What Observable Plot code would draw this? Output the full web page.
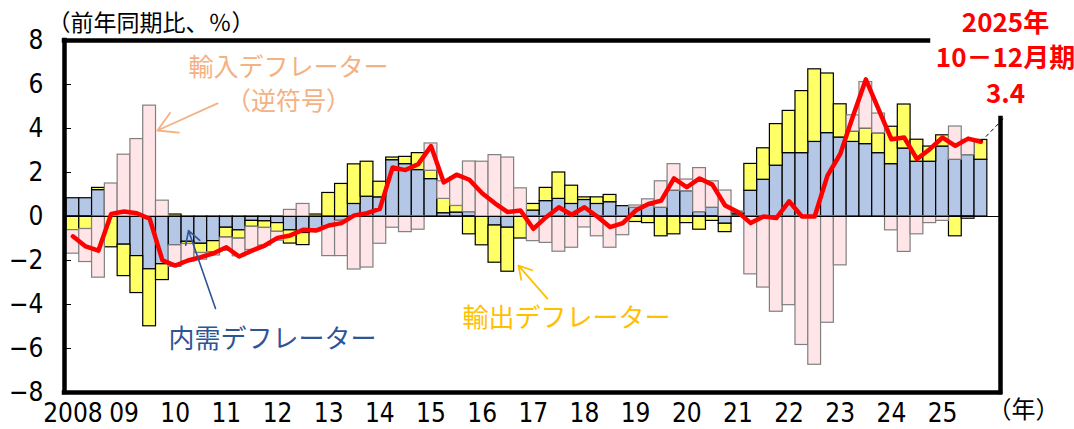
<!DOCTYPE html>
<html><head><meta charset="utf-8">
<script src="https://cdn.jsdelivr.net/npm/d3@7"></script>
<script src="https://cdn.jsdelivr.net/npm/@observablehq/plot@0.6"></script>
<style>
html,body{margin:0;padding:0;background:#fff;}
</style></head><body><div id="chart"></div>
<script>
// Quarterly, 2008 Q1 .. 2025 Q4 (72 quarters)
const years = ["2008","2009","2010","2011","2012","2013","2014","2015","2016","2017","2018","2019","2020","2021","2022","2023","2024","2025"];
const yearLabels = ["2008","09","10","11","12","13","14","15","16","17","18","19","20","21","22","23","24","25"];
const quarterNames = ["Q1","Q2","Q3","Q4"];

// 内需デフレーター contribution (blue)
const domestic = [0.83,0.83,1.2,0.0,-1.28,-1.8,-2.4,-2.17,-1.31,-1.15,
  -1.24,-1.12,-0.51,-0.63,-0.2,-0.22,-0.3,-0.63,-0.75,-0.58,
  -0.45,-0.2,0.57,0.9,0.87,2.56,2.38,2.11,1.7,0.15,
  0.18,0.2,0.0,-0.41,-0.51,0.0,0.27,0.7,0.8,0.57,
  0.75,0.57,0.65,0.47,0.4,0.5,0.4,1.18,1.15,0.2,
  0.4,-0.33,0.1,1.17,1.67,2.31,2.88,2.88,3.39,3.79,
  3.59,3.39,3.29,2.88,2.38,3.09,2.49,2.49,3.18,2.58,
  2.79,2.58];
// 輸出デフレーター contribution (yellow)
const exportDefl = [-0.62,-0.57,0.1,-1.4,-1.43,-1.68,-2.59,-0.72,0.09,-0.1,
  -0.42,-0.5,-0.45,-0.38,-0.27,-0.3,-0.4,-0.6,-0.55,0.09,
  1.07,1.48,1.8,1.59,0.71,0.12,0.33,0.77,0.38,0.65,
  0.3,-0.81,-1.31,-1.69,-2.0,-1.0,0.3,0.6,1.2,0.83,
  0.12,0.3,0.33,0.0,-0.25,-0.3,-0.9,-0.81,-0.3,-0.6,
  -0.2,-0.38,0.08,1.22,1.43,1.89,1.92,2.82,3.3,2.71,
  1.51,0.47,0.71,0.9,1.7,2.0,1.0,0.69,0.51,-0.9,
  -0.1,0.9];
// 輸入デフレーター contribution, inverted sign (pink)
const importInv = [-1.07,-1.5,-2.78,1.5,2.81,3.52,5.04,0.72,-0.98,-0.8,
  -0.3,-0.15,-0.6,-0.8,-1.05,-0.8,-0.4,0.3,0.57,-0.1,
  -1.35,-1.6,-2.41,-2.32,-1.24,-0.51,-0.71,-0.6,1.24,0.8,
  1.3,2.3,2.49,2.79,2.68,1.28,-1.12,-1.2,-1.6,-1.42,
  -0.5,-0.9,-1.42,-0.85,0.1,0.28,1.2,1.2,0.53,2.0,
  1.2,1.18,0.05,-2.63,-3.23,-4.33,-4.03,-5.84,-6.74,-4.83,
  -2.22,0.74,2.11,0.9,-0.63,-1.61,-0.81,-0.3,-0.2,1.51,
  0.69,0.0];
// GDPデフレーター (red line)
const gdpDeflator = [-0.9,-1.36,-1.55,0.12,0.23,0.15,-0.1,-1.99,-2.23,-2.0,
  -1.85,-1.67,-1.4,-1.82,-1.55,-1.32,-0.97,-0.86,-0.6,-0.64,
  -0.41,-0.3,0.05,0.15,0.35,2.23,2.11,2.38,3.2,1.55,
  1.9,1.67,1.06,0.6,0.2,0.27,-0.56,-0.03,0.42,0.08,
  0.42,0.0,-0.48,-0.3,0.27,0.57,0.72,1.73,1.33,1.73,
  1.45,0.5,0.2,-0.3,0.0,-0.07,0.69,0.0,0.0,1.86,
  2.84,4.57,6.23,4.87,3.51,3.59,2.61,3.06,3.59,3.21,
  3.54,3.4];

const yTicks = [-8,-6,-4,-2,0,2,4,6,8];
const seriesNames = ["内需デフレーター","輸出デフレーター","輸入デフレーター（逆符号）"];
const seriesFill = ["#b4c7e7","#ffff66","#ffe4e8"];
const seriesStroke = ["#000000","#000000","#808080"];
const seriesValues = [domestic, exportDefl, importInv];

// quarter categories
const quarters = [];
years.forEach(y => quarterNames.forEach(q => quarters.push(y + q)));

const barRows = [];
seriesNames.forEach((s, k) => {
  quarters.forEach((q, i) => barRows.push({
    q, i, series: s, value: seriesValues[k][i],
    fill: seriesFill[k], stroke: seriesStroke[k]
  }));
});
const lineRows = quarters.map((q, i) => ({q, i, value: gdpDeflator[i]}));
const yearTickPos = yearLabels.map((_, k) => 4 * k + 0.5);

const xMin = -0.156, xMax = 73.03;
const sans = "'Noto Sans CJK JP', 'Noto Sans', sans-serif";
const narrow = "'Liberation Sans Narrow', 'DejaVu Sans Condensed', 'Roboto', sans-serif";

const last = lineRows[lineRows.length - 1];

const chart = Plot.plot({
  width: 1074,
  height: 429,
  marginLeft: 64,
  marginRight: 74,
  marginTop: 40,
  marginBottom: 37,
  x: {domain: [xMin, xMax]},
  y: {domain: [-8, 8]},
  color: {type: "identity"},
  style: {fontFamily: narrow, fontSize: "26px", background: "#fff", overflow: "visible"},
  marks: [
    Plot.rectY(barRows, Plot.stackY({
      x1: "i", x2: d => d.i + 1, y: "value", z: "series",
      order: seriesNames,
      fill: "fill", stroke: "stroke", strokeWidth: 1.2
    })),
    Plot.ruleY([0], {stroke: "#000", strokeWidth: 1.2}),
    Plot.line(lineRows, {x: d => d.i + 0.5, y: "value", stroke: "#ff0000", strokeWidth: 4.5, strokeLinejoin: "round", strokeLinecap: "round"}),
    // frame
    Plot.ruleX([xMin], {stroke: "#000", strokeWidth: 4.5, strokeLinecap: "square"}),
    Plot.ruleY([-8], {stroke: "#000", strokeWidth: 4.5, strokeLinecap: "square"}),
    Plot.ruleY([8], {stroke: "#000", strokeWidth: 4.5, strokeLinecap: "square", insetRight: 72}),
    Plot.ruleX([xMax], {stroke: "#000", strokeWidth: 4.5, strokeLinecap: "square", insetTop: 78}),
    // axes
    Plot.axisY({ticks: yTicks, tickSize: 7, dx: 7, tickFormat: () => "", stroke: "#000"}),
    Plot.axisY({ticks: yTicks, tickSize: 0, tickPadding: 21, fontSize: 26, fontFamily: narrow, fill: "#000"}),
    Plot.axisX({ticks: yearTickPos, tickSize: 0, tickPadding: 11, fontSize: 26, fontFamily: narrow, fill: "#000",
      tickFormat: d => yearLabels[Math.round((d - 0.5) / 4)]}),
    Plot.text(["（年）"], {x: 74.82, y: -8.82, fontSize: 24, fontFamily: sans, fill: "#000"}),
    Plot.text(["（前年同期比、％）"], {frameAnchor: "top-left", dx: -17, dy: -17, textAnchor: "start", lineAnchor: "middle", fontSize: 23, fontFamily: sans, fill: "#000"}),
    // annotations
    Plot.text(["輸入デフレーター"], {x: 17.36, y: 6.75, fontSize: 25, fontFamily: sans, fill: "#f4b183"}),
    Plot.text(["（逆符号）"], {x: 17.36, y: 5.2, fontSize: 25, fontFamily: sans, fill: "#f4b183"}),
    Plot.arrow([{x1: 11.81, y1: 5.14, x2: 7.11, y2: 3.91}], {x1: "x1", y1: "y1", x2: "x2", y2: "y2", stroke: "#f4b183", strokeWidth: 1.8, headLength: 18, headAngle: 60}),
    Plot.text(["内需デフレーター"], {x: 16.1, y: -5.6, fontSize: 26, fontFamily: sans, fill: "#2f5597"}),
    Plot.arrow([{x1: 11.65, y1: -4.18, x2: 9.54, y2: -0.64}], {x1: "x1", y1: "y1", x2: "x2", y2: "y2", stroke: "#2f5597", strokeWidth: 1.6, headLength: 14, headAngle: 60}),
    Plot.text(["輸出デフレーター"], {x: 39.09, y: -4.64, fontSize: 26, fontFamily: sans, fill: "#ffc000"}),
    Plot.arrow([{x1: 37.6, y1: -3.73, x2: 35.34, y2: -2.23}], {x1: "x1", y1: "y1", x2: "x2", y2: "y2", stroke: "#ffc000", strokeWidth: 1.8, headLength: 14, headAngle: 60}),
    // latest value callout
    Plot.link([{x1: last.i + 0.5, y1: last.value, x2: 73.26, y2: 4.45}], {x1: "x1", y1: "y1", x2: "x2", y2: "y2", stroke: "#000", strokeWidth: 1, strokeDasharray: "4,3"}),
    Plot.text(["2025年", "10－12月期", last.value.toFixed(1)], {x: 73.42, y: [8.77, 7.18, 5.55], fontSize: 26, fontWeight: "bold", fontFamily: sans, fill: "#ff0000"})
  ]
});
document.getElementById("chart").appendChild(chart);
</script>
</body></html>
